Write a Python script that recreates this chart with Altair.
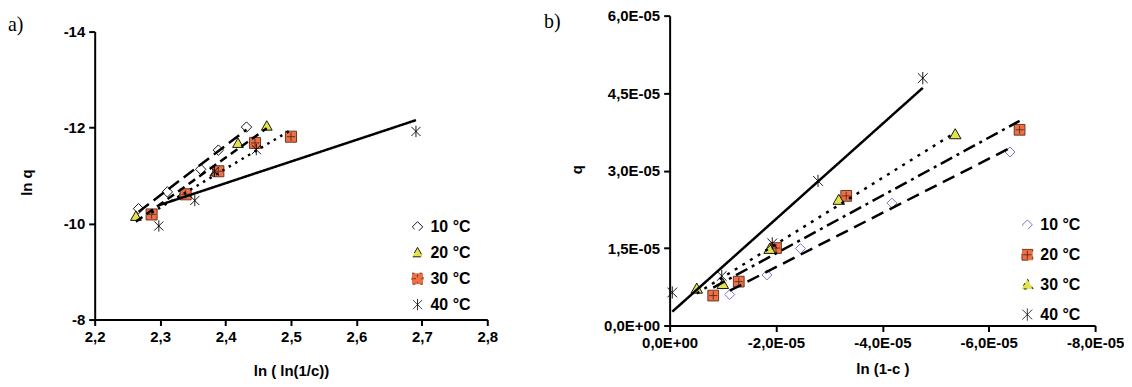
import altair as alt
import pandas as pd

# ---------------- data: panel a) ----------------
series_a = ["10 °C", "20 °C", "30 °C", "40 °C"]
a_x_10 = [2.267, 2.311, 2.362, 2.389, 2.432]
a_y_10 = [-10.31, -10.66, -11.13, -11.53, -12.01]
a_x_20 = [2.263, 2.335, 2.385, 2.419, 2.463]
a_y_20 = [-10.15, -10.62, -11.08, -11.67, -12.03]
a_x_30 = [2.287, 2.339, 2.389, 2.445, 2.500]
a_y_30 = [-10.19, -10.61, -11.09, -11.68, -11.81]
a_x_40 = [2.298, 2.353, 2.383, 2.447, 2.691]
a_y_40 = [-9.95, -10.48, -11.09, -11.54, -11.92]
a_xticks = [2.2, 2.3, 2.4, 2.5, 2.6, 2.7, 2.8]
a_yticks = [-14, -12, -10, -8]

# ---------------- data: panel b) ----------------
series_b = ["10 °C", "20 °C", "30 °C", "40 °C"]
b_x_10 = [-1.13e-5, -1.83e-5, -2.46e-5, -4.18e-5, -6.40e-5]
b_y_10 = [0.60e-5, 0.98e-5, 1.49e-5, 2.37e-5, 3.36e-5]
b_x_20 = [-0.82e-5, -1.30e-5, -2.00e-5, -3.32e-5, -6.58e-5]
b_y_20 = [0.58e-5, 0.85e-5, 1.50e-5, 2.51e-5, 3.79e-5]
b_x_30 = [-0.51e-5, -1.00e-5, -1.88e-5, -3.18e-5, -5.37e-5]
b_y_30 = [0.71e-5, 0.80e-5, 1.48e-5, 2.43e-5, 3.70e-5]
b_x_40 = [-0.05e-5, -0.98e-5, -1.93e-5, -2.79e-5, -4.76e-5]
b_y_40 = [0.64e-5, 0.96e-5, 1.59e-5, 2.80e-5, 4.79e-5]
b_xticks = [0, -2e-5, -4e-5, -6e-5, -8e-5]
b_yticks = [0, 1.5e-5, 3.0e-5, 4.5e-5, 6.0e-5]


def frame(series, xs, ys):
    rows = []
    for s, xv, yv in zip(series, xs, ys):
        for a, b in zip(xv, yv):
            rows.append({"series": s, "x": a, "y": b})
    return pd.DataFrame(rows)


df_a = frame(series_a, [a_x_10, a_x_20, a_x_30, a_x_40], [a_y_10, a_y_20, a_y_30, a_y_40])
df_b = frame(series_b, [b_x_10, b_x_20, b_x_30, b_x_40], [b_y_10, b_y_20, b_y_30, b_y_40])

ORANGE = "#EE7046"
YELLOW = "#E2E34E"
PURPLE = "#6E62BE"
PLUS = "#5a2a18"

P_DIAMOND = "M0,-1L1,0L0,1L-1,0Z"
P_TRI = "M0,-1L1,0.75L-1,0.75Z"
P_SQPLUS = "M-1,-1H1V1H-1Z M0,-0.75V0.75 M-0.75,0H0.75"
P_STAR = "M-0.8,-0.8L0.8,0.8 M0.8,-0.8L-0.8,0.8 M0,-1V1"

FONT = "Liberation Sans"


def panel(df, series, xscale, yscale, xaxis, yaxis, shapes, fills, strokes, sizes,
          dashes, legend, label, label_xy, w, h):
    pts = alt.Chart(df).mark_point(filled=True, strokeWidth=0.9, opacity=1).encode(
        x=alt.X("x:Q", scale=xscale, axis=xaxis),
        y=alt.Y("y:Q", scale=yscale, axis=yaxis),
        shape=alt.Shape("series:N", scale=alt.Scale(domain=series, range=shapes), legend=legend),
        fill=alt.Fill("series:N", scale=alt.Scale(domain=series, range=fills), legend=legend),
        stroke=alt.Stroke("series:N", scale=alt.Scale(domain=series, range=strokes), legend=legend),
        size=alt.Size("series:N", scale=alt.Scale(domain=series, range=sizes), legend=legend),
        order=alt.Order("series:N"),
    )
    lines = alt.Chart(df).transform_regression(
        "x", "y", groupby=["series"]
    ).mark_line(color="black", strokeWidth=2.5).encode(
        x=alt.X("x:Q", scale=xscale, axis=xaxis),
        y=alt.Y("y:Q", scale=yscale, axis=yaxis),
        strokeDash=alt.StrokeDash("series:N", scale=alt.Scale(domain=series, range=dashes), legend=None),
        detail="series:N",
    )
    lab_df = pd.DataFrame({"t": [label]})
    lab = alt.Chart(lab_df).mark_text(
        font="Liberation Serif", fontSize=20, align="left", baseline="middle", color="black"
    ).encode(text="t:N", x=alt.value(label_xy[0]), y=alt.value(label_xy[1]))
    return alt.layer(pts, lines, lab).properties(width=w, height=h)


legend_common = dict(
    title=None, orient="none", labelFont=FONT, labelFontSize=16, labelFontWeight="bold",
    labelColor="black", symbolStrokeWidth=0.9, labelOffset=5,
)

# ---- panel a): plot area starts 16 px below panel b)'s top ----
A_H = 305
xscale_a = alt.Scale(domain=[2.2, 2.8], nice=False, zero=False)
yscale_a = alt.Scale(domain=[-14, -8], range=[16, A_H], nice=False, zero=False)
xaxis_a = alt.Axis(
    values=a_xticks, labelExpr="replace(format(datum.value, '.1f'), '.', ',')",
    labelFlush=False, labelOverlap=False,
    title="ln ( ln(1/c))", titleY=51, titleBaseline="middle",
)
yaxis_a = alt.Axis(
    values=a_yticks, labelExpr="'-' + format(abs(datum.value), 'd')",
    labelFlush=False, labelOverlap=False,
    title="ln q", titleX=-68, titleY=167, titleAngle=-90, titleBaseline="middle", titleAlign="center",
)
leg_a = alt.Legend(legendX=316, legendY=204, rowPadding=10, **legend_common)

left = panel(
    df_a, series_a, xscale_a, yscale_a, xaxis_a, yaxis_a,
    shapes=[P_DIAMOND, P_TRI, P_SQPLUS, P_STAR],
    fills=["white", YELLOW, ORANGE, "transparent"],
    strokes=["black", "black", PLUS, "black"],
    sizes=[110, 130, 180, 140],
    dashes=[[13, 6], [8, 5], [2.5, 5], [1, 0]],
    legend=leg_a, label="a)", label_xy=(-87, 9.5), w=394, h=A_H,
)

# ---- panel b) ----
xscale_b = alt.Scale(domain=[-8e-5, 0], nice=False, zero=False, reverse=True)
yscale_b = alt.Scale(domain=[0, 6e-5], nice=False, zero=False)
xaxis_b = alt.Axis(
    values=b_xticks,
    labelExpr="datum.value == 0 ? '0,0E+00' : '-' + replace(format(abs(datum.value) * 100000, '.1f'), '.', ',') + 'E-05'",
    labelFlush=False, labelOverlap=False,
    title="ln (1-c )", titleY=43.5, titleBaseline="middle",
)
yaxis_b = alt.Axis(
    values=b_yticks,
    labelExpr="datum.value == 0 ? '0,0E+00' : replace(format(datum.value * 100000, '.1f'), '.', ',') + 'E-05'",
    labelFlush=False, labelOverlap=False,
    title="q", titleX=-93.5, titleY=154, titleAngle=-90, titleBaseline="middle", titleAlign="center",
)
leg_b = alt.Legend(legendX=351, legendY=202, rowPadding=14, **legend_common)

right = panel(
    df_b, series_b, xscale_b, yscale_b, xaxis_b, yaxis_b,
    shapes=[P_DIAMOND, P_SQPLUS, P_TRI, P_STAR],
    fills=["white", ORANGE, YELLOW, "transparent"],
    strokes=[PURPLE, PLUS, "black", "black"],
    sizes=[100, 150, 120, 120],
    dashes=[[13, 7], [13, 5, 3, 5], [3, 6], [1, 0]],
    legend=leg_b, label="b)", label_xy=(-126, 6.8), w=427, h=311,
)

chart = alt.hconcat(left, right, spacing=46).resolve_scale(
    shape="independent", fill="independent", stroke="independent",
    size="independent", strokeDash="independent",
).resolve_legend(
    shape="independent", fill="independent", stroke="independent", size="independent",
).properties(
    padding={"left": 0, "top": 0, "right": 0, "bottom": 0}
).configure_view(
    stroke=None
).configure_axis(
    domainColor="black", domainWidth=2, tickColor="black", tickWidth=2, tickSize=6,
    labelFont=FONT, labelFontSize=15, labelFontWeight="bold", labelColor="black", labelPadding=4,
    titleFont=FONT, titleFontSize=15, titleFontWeight="bold", titleColor="black", grid=False,
)

chart.save("out.html", embed_options={"renderer": "svg", "actions": False})
